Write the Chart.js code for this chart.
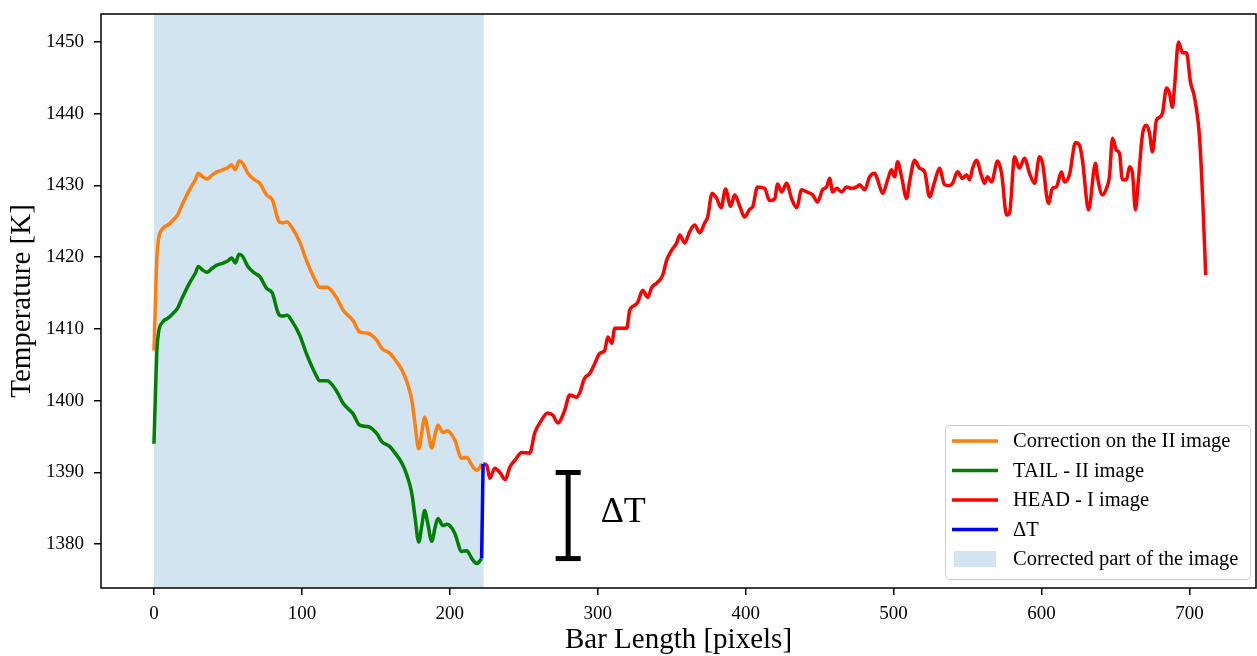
<!DOCTYPE html>
<html>
<head>
<meta charset="utf-8">
<script src="https://cdn.jsdelivr.net/npm/chart.js@4/dist/chart.umd.min.js"></script>
<style>
  html, body { margin: 0; padding: 0; background: #fff; }
  canvas { display: block; }
</style>
</head>
<body>
<canvas id="chart" width="1257" height="656"></canvas>
<script>
// positions along the bar (pixels) for the tail part
const tailX = [0, 1, 2, 3, 6, 9.5, 13, 16, 19, 24, 28, 30, 33, 36, 39, 42.5, 47, 50, 52.5, 55, 57.5, 60, 63.5, 68, 71.6, 76, 80, 84, 86.5, 90, 93, 98.6, 103, 109, 112, 117, 123.6, 128, 134.5, 139, 144.6, 150.7, 154, 159.5, 163, 167.6, 171, 174.3, 176.4, 179, 181, 183, 185, 187.8, 190, 192, 195.3, 198, 200, 203.4, 208, 211.5, 214.9, 218.2, 220, 221.5];
const correctionT = [1407, 1414, 1420, 1422.4, 1424, 1424.5, 1425.2, 1425.9, 1427.3, 1429.4, 1430.8, 1431.7, 1431.2, 1430.9, 1431.4, 1431.9, 1432.2, 1432.5, 1432.9, 1432.2, 1433.4, 1433.1, 1431.7, 1430.8, 1430.3, 1428.7, 1428, 1425.2, 1424.8, 1424.9, 1424.2, 1422.1, 1419.6, 1416.8, 1415.8, 1415.8, 1414.3, 1412.6, 1411.2, 1409.6, 1409.4, 1408.4, 1407.3, 1406.6, 1405.7, 1404.3, 1402.6, 1400.1, 1396.9, 1393.3, 1395.5, 1397.7, 1396, 1393.4, 1395.3, 1396.6, 1395.6, 1395.8, 1395.6, 1394.5, 1392, 1392.1, 1391, 1390.3, 1390.6, 1391.2];
const tailT = [1394, 1401, 1407, 1409.4, 1411, 1411.5, 1412.2, 1412.9, 1414.3, 1416.4, 1417.8, 1418.7, 1418.2, 1417.9, 1418.4, 1418.9, 1419.2, 1419.5, 1419.9, 1419.2, 1420.4, 1420.1, 1418.7, 1417.8, 1417.3, 1415.7, 1415, 1412.2, 1411.8, 1411.9, 1411.2, 1409.1, 1406.6, 1403.8, 1402.8, 1402.8, 1401.3, 1399.6, 1398.2, 1396.6, 1396.4, 1395.4, 1394.3, 1393.6, 1392.7, 1391.3, 1389.6, 1387.1, 1383.9, 1380.3, 1382.5, 1384.7, 1383, 1380.4, 1382.3, 1383.6, 1382.6, 1382.8, 1382.6, 1381.5, 1379, 1379.1, 1378, 1377.3, 1377.6, 1378];

// head part of the bar (first image)
const headX = [222.5, 225, 227, 230.4, 233.8, 237.5, 240.5, 244, 248.6, 254, 257.4, 262, 266, 269.6, 273, 277.7, 281, 285.8, 287.8, 291, 294.6, 298, 301.4, 304.7, 306.8, 309.5, 311.5, 316, 319.6, 321.6, 325, 327, 330.4, 333.8, 336.5, 339.9, 343.9, 346.6, 350, 353.4, 355.4, 358.8, 362, 365.5, 368.9, 372.3, 374.3, 377.3, 380.4, 383.4, 386.4, 389.8, 392.6, 396, 399.3, 402.7, 404.7, 408, 412.8, 416.2, 419.6, 421.6, 424.3, 427.7, 431, 434.5, 437.8, 441.2, 445.3, 448.6, 452, 454.7, 456.8, 458.8, 461.5, 464.9, 468.2, 471.6, 475, 477, 480.4, 483.8, 487.2, 489.2, 492.6, 496, 498.6, 500.7, 502.7, 505.4, 508.8, 510.8, 514.2, 517.6, 521, 524.3, 527.7, 531, 534.5, 537.8, 539.9, 543.2, 546.6, 549.3, 551.4, 553.4, 556, 559.5, 561.5, 563.5, 566.2, 570.3, 573, 576.4, 578.4, 581.8, 585, 588.5, 591.9, 595.3, 598.6, 600.7, 604.7, 607.4, 610, 613.5, 615.5, 618.9, 623, 625.7, 627.7, 631.8, 636.5, 637.8, 641.2, 643.9, 645.9, 648, 650.7, 652.7, 654.7, 657.4, 659.5, 661.5, 663.5, 665.5, 668.2, 671, 673, 675, 677.7, 679.7, 681.8, 684.5, 686.5, 688.5, 689.9, 692.6, 695.3, 698, 700.7, 703.4, 706.8, 708.8, 711];
const headT = [1391.2, 1391, 1389.2, 1390.6, 1390, 1389, 1390.7, 1391.7, 1392.8, 1392.7, 1395.5, 1397.3, 1398.3, 1398, 1396.9, 1398.7, 1400.8, 1400.5, 1401.1, 1403.1, 1403.8, 1405.2, 1406.6, 1407, 1408.9, 1408, 1410.1, 1410.1, 1410.1, 1412.6, 1413.3, 1413.7, 1415.4, 1414.4, 1415.8, 1416.4, 1417.5, 1419.6, 1421, 1422, 1423.1, 1422, 1423.5, 1424.5, 1423.4, 1424.8, 1425.6, 1428.9, 1428.2, 1426.9, 1429.5, 1427.1, 1428.7, 1427.1, 1425.6, 1426.7, 1427, 1429.8, 1429.6, 1427.9, 1428.1, 1430.2, 1429.1, 1430.3, 1428.2, 1426.9, 1429.4, 1429.1, 1428.7, 1427.7, 1429.4, 1429.8, 1431, 1429.1, 1429.6, 1429.1, 1429.8, 1429.6, 1429.8, 1430.1, 1429.4, 1431.2, 1431.7, 1430.8, 1428.9, 1430.8, 1432.2, 1431.2, 1433.3, 1431.2, 1428.2, 1430.5, 1433.5, 1432.4, 1431.9, 1428.4, 1430.5, 1432.4, 1430.1, 1430, 1430.3, 1431.9, 1431, 1431.5, 1430.8, 1432.4, 1433.5, 1431.3, 1430.3, 1431.2, 1430.5, 1433.4, 1431.7, 1425.9, 1426.2, 1434, 1432.4, 1433.8, 1431.7, 1430.3, 1434, 1433.1, 1427.5, 1429.6, 1429.8, 1431.9, 1430.5, 1431.5, 1436, 1435.6, 1433.5, 1426.6, 1433.1, 1431.2, 1428.7, 1429.6, 1431.2, 1436.6, 1434.9, 1434.5, 1430.8, 1430.8, 1432.6, 1431.7, 1426.6, 1430.8, 1437, 1438.4, 1437.3, 1434.7, 1439.1, 1439.5, 1440.1, 1443.6, 1442.9, 1440.9, 1443.7, 1450, 1448.5, 1448.5, 1444.4, 1442.3, 1436.8, 1428.9, 1417.5];

// jump between the two images
const deltaX = [222.5, 221.5];
const deltaT = [1391.2, 1378];

// corrected span and the ΔT marker
const spanX = [0, 223];
const markerX = [280, 280];
const markerT = [1378, 1390];

const xTicks = [0, 100, 200, 300, 400, 500, 600, 700];
const yTicks = [1380, 1390, 1400, 1410, 1420, 1430, 1440, 1450];
const xMin = -35.8, xMax = 745;
const yMin = 1373.9, yMax = 1453.9;

const legendLabels = ['Correction on the II image', 'TAIL - II image', 'HEAD - I image', 'ΔT', 'Corrected part of the image'];

const serif = '"Liberation Serif", "Times New Roman", "DejaVu Serif", serif';

const toPoints = (xs, ys) => xs.map((x, i) => ({ x: x, y: ys[i] }));

const lineStyle = (color, order) => ({
  borderColor: color,
  backgroundColor: color,
  borderWidth: 3.5,
  pointRadius: 0,
  cubicInterpolationMode: 'monotone',
  borderJoinStyle: 'round',
  fill: false,
  order: order,
});

// no extra room round the axes: plot box is fixed by layout padding
const noPadding = (scale) => {
  scale.paddingTop = 0;
  scale.paddingBottom = 0;
  scale.paddingLeft = 0;
  scale.paddingRight = 0;
};

// box round the plot, legend and ΔT text, like matplotlib draws them
const decorPlugin = {
  id: 'decor',
  afterDatasetsDraw(chart) {
    const { ctx, chartArea, scales } = chart;
    ctx.save();
    // ΔT label
    ctx.fillStyle = '#000';
    ctx.font = '36px ' + serif;
    ctx.textAlign = 'left';
    ctx.textBaseline = 'middle';
    ctx.fillText('ΔT', scales.x.getPixelForValue(302), scales.y.getPixelForValue(1384.4));

    // frame
    ctx.strokeStyle = '#000';
    ctx.lineWidth = 1.5;
    ctx.strokeRect(chartArea.left, chartArea.top, chartArea.right - chartArea.left, chartArea.bottom - chartArea.top);

    // legend
    const lx = 945, ly = 425, lw = 305, lh = 154;
    ctx.beginPath();
    ctx.roundRect(lx + 0.5, ly + 0.5, lw, lh, 4);
    ctx.fillStyle = 'rgba(255,255,255,0.8)';
    ctx.fill();
    ctx.strokeStyle = '#cccccc';
    ctx.lineWidth = 1;
    ctx.stroke();

    const colors = ['#ff7f0e', 'green', 'red', 'blue'];
    ctx.font = '20.5px ' + serif;
    legendLabels.forEach((label, i) => {
      const cy = 441 + i * 29.5;
      if (i < 4) {
        ctx.strokeStyle = colors[i];
        ctx.lineWidth = 3.5;
        ctx.beginPath();
        ctx.moveTo(952, cy);
        ctx.lineTo(998, cy);
        ctx.stroke();
      } else {
        ctx.fillStyle = 'rgba(31,119,180,0.2)';
        ctx.fillRect(954, cy - 8, 42, 16);
      }
      ctx.fillStyle = '#000';
      ctx.fillText(label, 1013, cy + 1);
    });
    ctx.restore();
  },
};

new Chart(document.getElementById('chart'), {
  type: 'line',
  data: {
    datasets: [
      Object.assign({ label: legendLabels[0], data: toPoints(tailX, correctionT) }, lineStyle('#ff7f0e', 4)),
      Object.assign({ label: legendLabels[1], data: toPoints(tailX, tailT) }, lineStyle('green', 3)),
      Object.assign({ label: legendLabels[2], data: toPoints(headX, headT) }, lineStyle('red', 2)),
      Object.assign({ label: legendLabels[3], data: toPoints(deltaX, deltaT) }, lineStyle('blue', 1)),
      {
        label: legendLabels[4],
        data: toPoints(spanX, [yMax, yMax]),
        borderWidth: 0,
        pointRadius: 0,
        backgroundColor: 'rgba(31,119,180,0.2)',
        fill: 'start',
        order: 10,
      },
      {
        label: 'marker',
        data: toPoints(markerX, markerT),
        borderColor: '#000',
        borderWidth: 5,
        pointStyle: 'line',
        pointRadius: 12.5,
        pointBorderWidth: 5,
        pointBorderColor: '#000',
        fill: false,
        order: 0,
      },
    ],
  },
  options: {
    responsive: false,
    animation: false,
    devicePixelRatio: 1,
    layout: { autoPadding: false, padding: { left: 0, right: 1, top: 14, bottom: 0 } },
    plugins: {
      legend: { display: false },
      tooltip: { enabled: false },
    },
    scales: {
      x: {
        type: 'linear',
        min: xMin,
        max: xMax,
        afterBuildTicks: (scale) => { scale.ticks = xTicks.map(v => ({ value: v })); },
        afterFit: (scale) => { scale.height = 68; noPadding(scale); },
        border: { display: false },
        grid: { drawOnChartArea: false, drawTicks: true, tickLength: 7, color: '#000', lineWidth: 1.5 },
        ticks: { color: '#000', padding: 8, font: { family: serif, size: 19 }, callback: (v) => String(v) },
        title: { display: true, text: 'Bar Length [pixels]', color: '#000', font: { family: serif, size: 29, lineHeight: 1.1 }, padding: { top: 0, bottom: 0 } },
      },
      y: {
        type: 'linear',
        min: yMin,
        max: yMax,
        afterBuildTicks: (scale) => { scale.ticks = yTicks.map(v => ({ value: v })); },
        afterFit: (scale) => { scale.width = 101; noPadding(scale); },
        border: { display: false },
        grid: { drawOnChartArea: false, drawTicks: true, tickLength: 7, color: '#000', lineWidth: 1.5 },
        ticks: { color: '#000', padding: 10, font: { family: serif, size: 19 }, callback: (v) => String(v) },
        title: { display: true, text: 'Temperature [K]', color: '#000', font: { family: serif, size: 29 }, padding: { top: 5, bottom: 0 } },
      },
    },
  },
  plugins: [decorPlugin],
});
</script>
</body>
</html>
